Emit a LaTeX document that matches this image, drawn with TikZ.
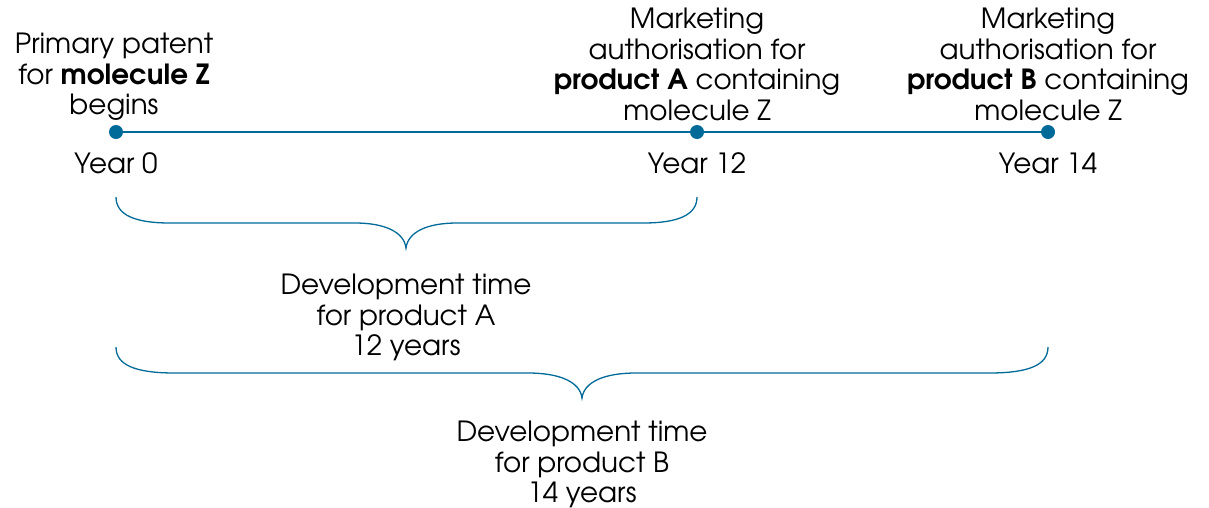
\documentclass[tikz,border=0pt]{standalone}
\usepackage{fontspec}
\setmainfont{texgyreadventor}[Extension=.otf,UprightFont=*-regular,BoldFont=*-bold]
\definecolor{tl}{RGB}{0,106,152}
\begin{document}
\begin{tikzpicture}[x=1pt,y=-1pt,
  lbl/.style={font=\fontsize{27.8}{30.5}\selectfont,align=center,inner sep=0pt,text=black},
  dot/.style={circle,fill=tl,inner sep=0pt,minimum size=14pt},
  tline/.style={draw=tl,line width=2.4pt},
  brc/.style={draw=tl,line width=1.3pt}]
\useasboundingbox (0,0) rectangle (1209,507);
\node[dot] (d0) at (116,132) {};
\node[dot] (d12) at (697,132) {};
\node[dot] (d14) at (1048,132) {};
\draw[tline] (d0) -- (d12) -- (d14);
\node[lbl,anchor=base] (y0) at (116,173) {Year 0};
\node[lbl,anchor=base] (y12) at (697,173) {Year 12};
\node[lbl,anchor=base] (y14) at (1048,173) {Year 14};
\node[lbl,anchor=south] (t0) at (114,121) {Primary patent\\for \textbf{molecule Z}\\begins};
\node[lbl,anchor=south] (t12) at (697,121) {Marketing\\authorisation for\\\textbf{product A} containing\\molecule Z};
\node[lbl,anchor=south] (t14) at (1048,121) {Marketing\\authorisation for\\\textbf{product B} containing\\molecule Z};
% brace A
\coordinate (a1) at (116,197);
\coordinate (a2) at (697,197);
\coordinate (am) at (406,248);
\draw[brc] (a1) .. controls (116,215) and (135,223) .. (170,223) -- (355,223)
  .. controls (385,223) and (404,232) .. (am)
  .. controls (408,232) and (427,223) .. (457,223) -- (643,223)
  .. controls (678,223) and (697,215) .. (a2);
\node[lbl,anchor=north] (da) at (406,274) {Development time\\for product A\\12 years};
% brace B
\coordinate (b1) at (116,347);
\coordinate (b2) at (1048,347);
\coordinate (bm) at (582,398);
\draw[brc] (b1) .. controls (116,365) and (135,373) .. (175,373) -- (528,373)
  .. controls (560,373) and (580,382) .. (bm)
  .. controls (584,382) and (604,373) .. (636,373) -- (989,373)
  .. controls (1029,373) and (1048,365) .. (b2);
\node[lbl,anchor=north] (db) at (582,421) {Development time\\for product B\\14 years};
\end{tikzpicture}
\end{document}
